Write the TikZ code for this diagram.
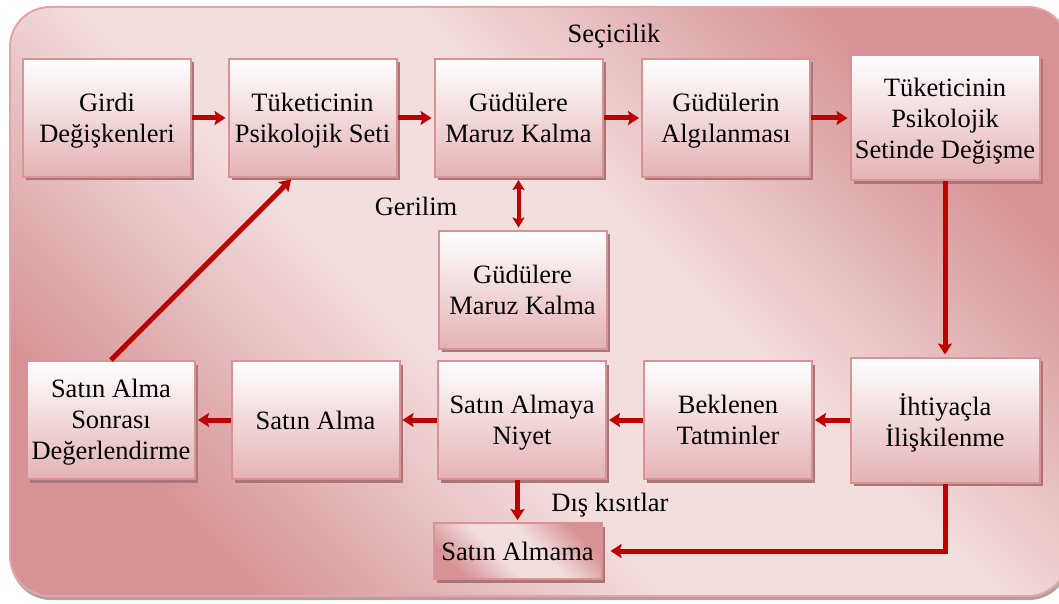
\documentclass[tikz,border=0pt]{standalone}
\usepackage{fontspec}
\setmainfont{Liberation Serif}
\usetikzlibrary{arrows.meta,shadows}
\definecolor{bgdark}{RGB}{214,146,148}
\definecolor{bglight}{RGB}{243,222,222}
\definecolor{bgline}{RGB}{226,166,168}
\definecolor{bgshadow}{RGB}{172,162,162}
\definecolor{boxlow}{RGB}{228,178,180}
\definecolor{boxline}{RGB}{218,146,150}
\definecolor{boxshadow}{RGB}{170,118,118}
\definecolor{arrowred}{RGB}{192,0,0}
\pgfdeclareverticalshading{bgband}{100bp}{color(0bp)=(bgdark); color(25bp)=(bgdark);
    color(43bp)=(bglight); color(57bp)=(bglight); color(75bp)=(bgdark); color(100bp)=(bgdark)}

\begin{document}
\begin{tikzpicture}[x = 1pt, y = -1pt,
    every node/.style = {font = \fontsize{26.5}{31}\selectfont, align = center},
    stage/.style = {rectangle, draw = boxline, line width = 2pt, inner sep = 0pt,
        minimum width = 168pt, minimum height = 118pt, text depth = -13pt,
        top color = white, bottom color = boxlow,
        drop shadow = {shadow xshift = 3pt, shadow yshift = -3.5pt, fill = boxshadow, opacity = 1}},
    widestage/.style = {stage, minimum width = 189pt, minimum height = 125pt, text depth = -7pt},
    endstage/.style = {stage, minimum height = 56pt, text depth = -8pt,
        shading = bgband, shading angle = -45},
    flow/.style = {draw = arrowred, line width = 5pt, shorten >= 2pt,
        -{Stealth[length = 11pt, width = 14pt, inset = 2pt]}},
    tag/.style = {inner sep = 0pt}]
    \useasboundingbox (0,0) rectangle (1059,604);
    \path[draw = bgline, line width = 2pt, rounded corners = 40pt,
        shading = bgband, shading angle = -45,
        drop shadow = {shadow xshift = 1pt, shadow yshift = -4pt, fill = bgshadow, opacity = 1}]
        (10,7) rectangle (1068,596);

    \node[stage] (girdi) at (107,118) {Girdi\\Değişkenleri};
    \node[stage] (pset) at (312.5,118) {Tüketicinin\\Psikolojik Seti};
    \node[stage] (maruz) at (518.5,118) {Güdülere\\Maruz Kalma};
    \node[stage] (algi) at (726,118) {Güdülerin\\Algılanması};
    \node[widestage] (degisme) at (945,118) {Tüketicinin\\Psikolojik\\Setinde Değişme};
    \node[stage] (maruzalt) at (522.5,289.5) {Güdülere\\Maruz Kalma};
    \node[stage, text depth = 1pt] (sonrasi) at (111,420) {Satın Alma\\Sonrası\\Değerlendirme};
    \node[stage] (alma) at (315.5,420) {Satın Alma};
    \node[stage] (niyet) at (522,420) {Satın Almaya\\Niyet};
    \node[stage] (beklenen) at (728,420) {Beklenen\\Tatminler};
    \node[widestage] (ihtiyac) at (945,420) {İhtiyaçla\\İlişkilenme};
    \node[endstage] (almama) at (517.5,551) {Satın Almama};

    \node[tag] (secicilik) at (614,36) {Seçicilik};
    \node[tag] (gerilim) at (416,206) {Gerilim};
    \node[tag] (kisitlar) at (610,505) {Dış kısıtlar};

    \draw[flow] (girdi) -- (pset);
    \draw[flow] (pset) -- (maruz);
    \draw[flow] (maruz) -- (algi);
    \draw[flow] (algi) -- (degisme);
    \draw[flow] (degisme) -- (ihtiyac);
    \draw[flow] (ihtiyac) -- (beklenen);
    \draw[flow] (beklenen) -- (niyet);
    \draw[flow] (niyet) -- (alma);
    \draw[flow] (alma) -- (sonrasi);
    \draw[flow] (sonrasi.north) -- ([xshift = -20pt]pset.south);
    \draw[flow, line width = 4pt, shorten <= 2pt,
        {Stealth[length = 10pt, width = 12pt, inset = 2pt]}-{Stealth[length = 10pt, width = 12pt, inset = 2pt]}]
        (maruz.south) -- (maruz.south |- maruzalt.north);
    \draw[flow] (almama.north |- niyet.south) -- (almama.north);
    \draw[flow, shorten >= 8pt] (ihtiyac.south) |- (almama.east);
\end{tikzpicture}
\end{document}
